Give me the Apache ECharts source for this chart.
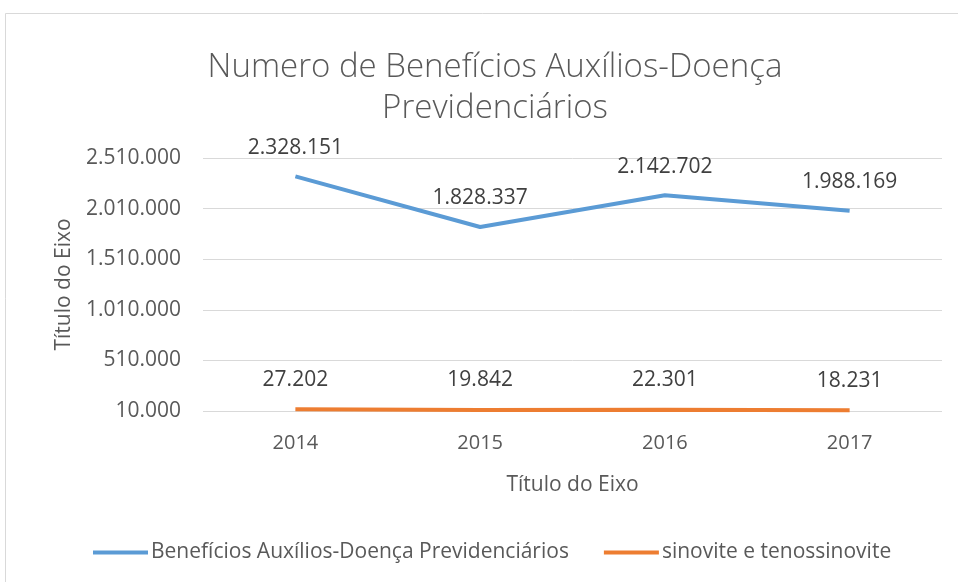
<!DOCTYPE html>
<html><head><meta charset="utf-8">
<script src="https://cdn.jsdelivr.net/npm/echarts@6/dist/echarts.min.js"></script>
<style>html,body{margin:0;padding:0;background:#fff}#c{width:958px;height:582px}</style>
</head><body><div id="c"></div>
<script>
var categories = ['2014', '2015', '2016', '2017'];
var beneficios = [2328151, 1828337, 2142702, 1988169];
var sinovite = [27202, 19842, 22301, 18231];
var seriesNames = ['Benefícios Auxílios-Doença Previdenciários', 'sinovite e tenossinovite'];
var titleText = 'Numero de Benefícios Auxílios-Doença\nPrevidenciários';
var axisName = 'Título do Eixo';

function fmt(v) { return String(Math.round(v)).replace(/\B(?=(\d{3})+(?!\d))/g, '.'); }
var FONT = 'Open Sans';
var chart = echarts.init(document.getElementById('c'));
chart.setOption({
  animation: false,
  backgroundColor: '#fff',
  graphic: [{ type: 'rect', shape: { x: 5.5, y: 13.5, width: 1000, height: 1000 }, style: { fill: 'none', stroke: '#d9d9d9', lineWidth: 1 } }],
  title: { text: titleText, left: 490, textAlign: 'center', top: 42,
    textStyle: { fontFamily: FONT, fontWeight: 300, fontSize: 33, color: '#595959', lineHeight: 41 } },
  legend: { bottom: 14, left: 88, itemWidth: 55, itemHeight: 4, itemGap: 35, icon: 'rect',
    textStyle: { fontFamily: FONT, fontSize: 21, color: '#595959', padding: [0, 0, 0, -2] },
    data: [{ name: seriesNames[0], itemStyle: { color: '#5B9BD5', opacity: 1 } },
           { name: seriesNames[1], itemStyle: { color: '#ED7D31', opacity: 1 } }] },
  grid: { left: 203, right: 16, top: 158, bottom: 171 },
  xAxis: { type: 'category', data: categories, boundaryGap: true,
    name: axisName, nameLocation: 'middle', nameGap: 64,
    nameTextStyle: { fontFamily: FONT, fontSize: 21, color: '#595959' },
    axisLine: { show: false }, axisTick: { show: false },
    axisLabel: { fontFamily: FONT, fontSize: 20, color: '#595959', margin: 22 } },
  yAxis: { type: 'value', min: 10000, max: 2510000, interval: 500000,
    name: axisName, nameLocation: 'middle', nameGap: 128, nameRotate: 90,
    nameTextStyle: { fontFamily: FONT, fontSize: 21, color: '#595959' },
    axisLine: { show: false }, axisTick: { show: false },
    splitLine: { lineStyle: { color: '#d9d9d9', width: 1 } },
    axisLabel: { fontFamily: FONT, fontSize: 21, color: '#595959', margin: 22, formatter: fmt } },
  series: [
    { name: seriesNames[0], type: 'line', data: beneficios, symbol: 'circle', symbolSize: 0, showSymbol: true,
      lineStyle: { color: '#5B9BD5', width: 4 }, itemStyle: { color: '#5B9BD5' },
      label: { show: true, position: 'top', distance: 18, formatter: function (p) { return fmt(p.value); },
        fontFamily: FONT, fontSize: 21, color: '#404040' } },
    { name: seriesNames[1], type: 'line', data: sinovite, symbol: 'circle', symbolSize: 0, showSymbol: true,
      lineStyle: { color: '#ED7D31', width: 4 }, itemStyle: { color: '#ED7D31' },
      label: { show: true, position: 'top', distance: 19, formatter: function (p) { return fmt(p.value); },
        fontFamily: FONT, fontSize: 21, color: '#404040' } }
  ]
});
</script></body></html>
